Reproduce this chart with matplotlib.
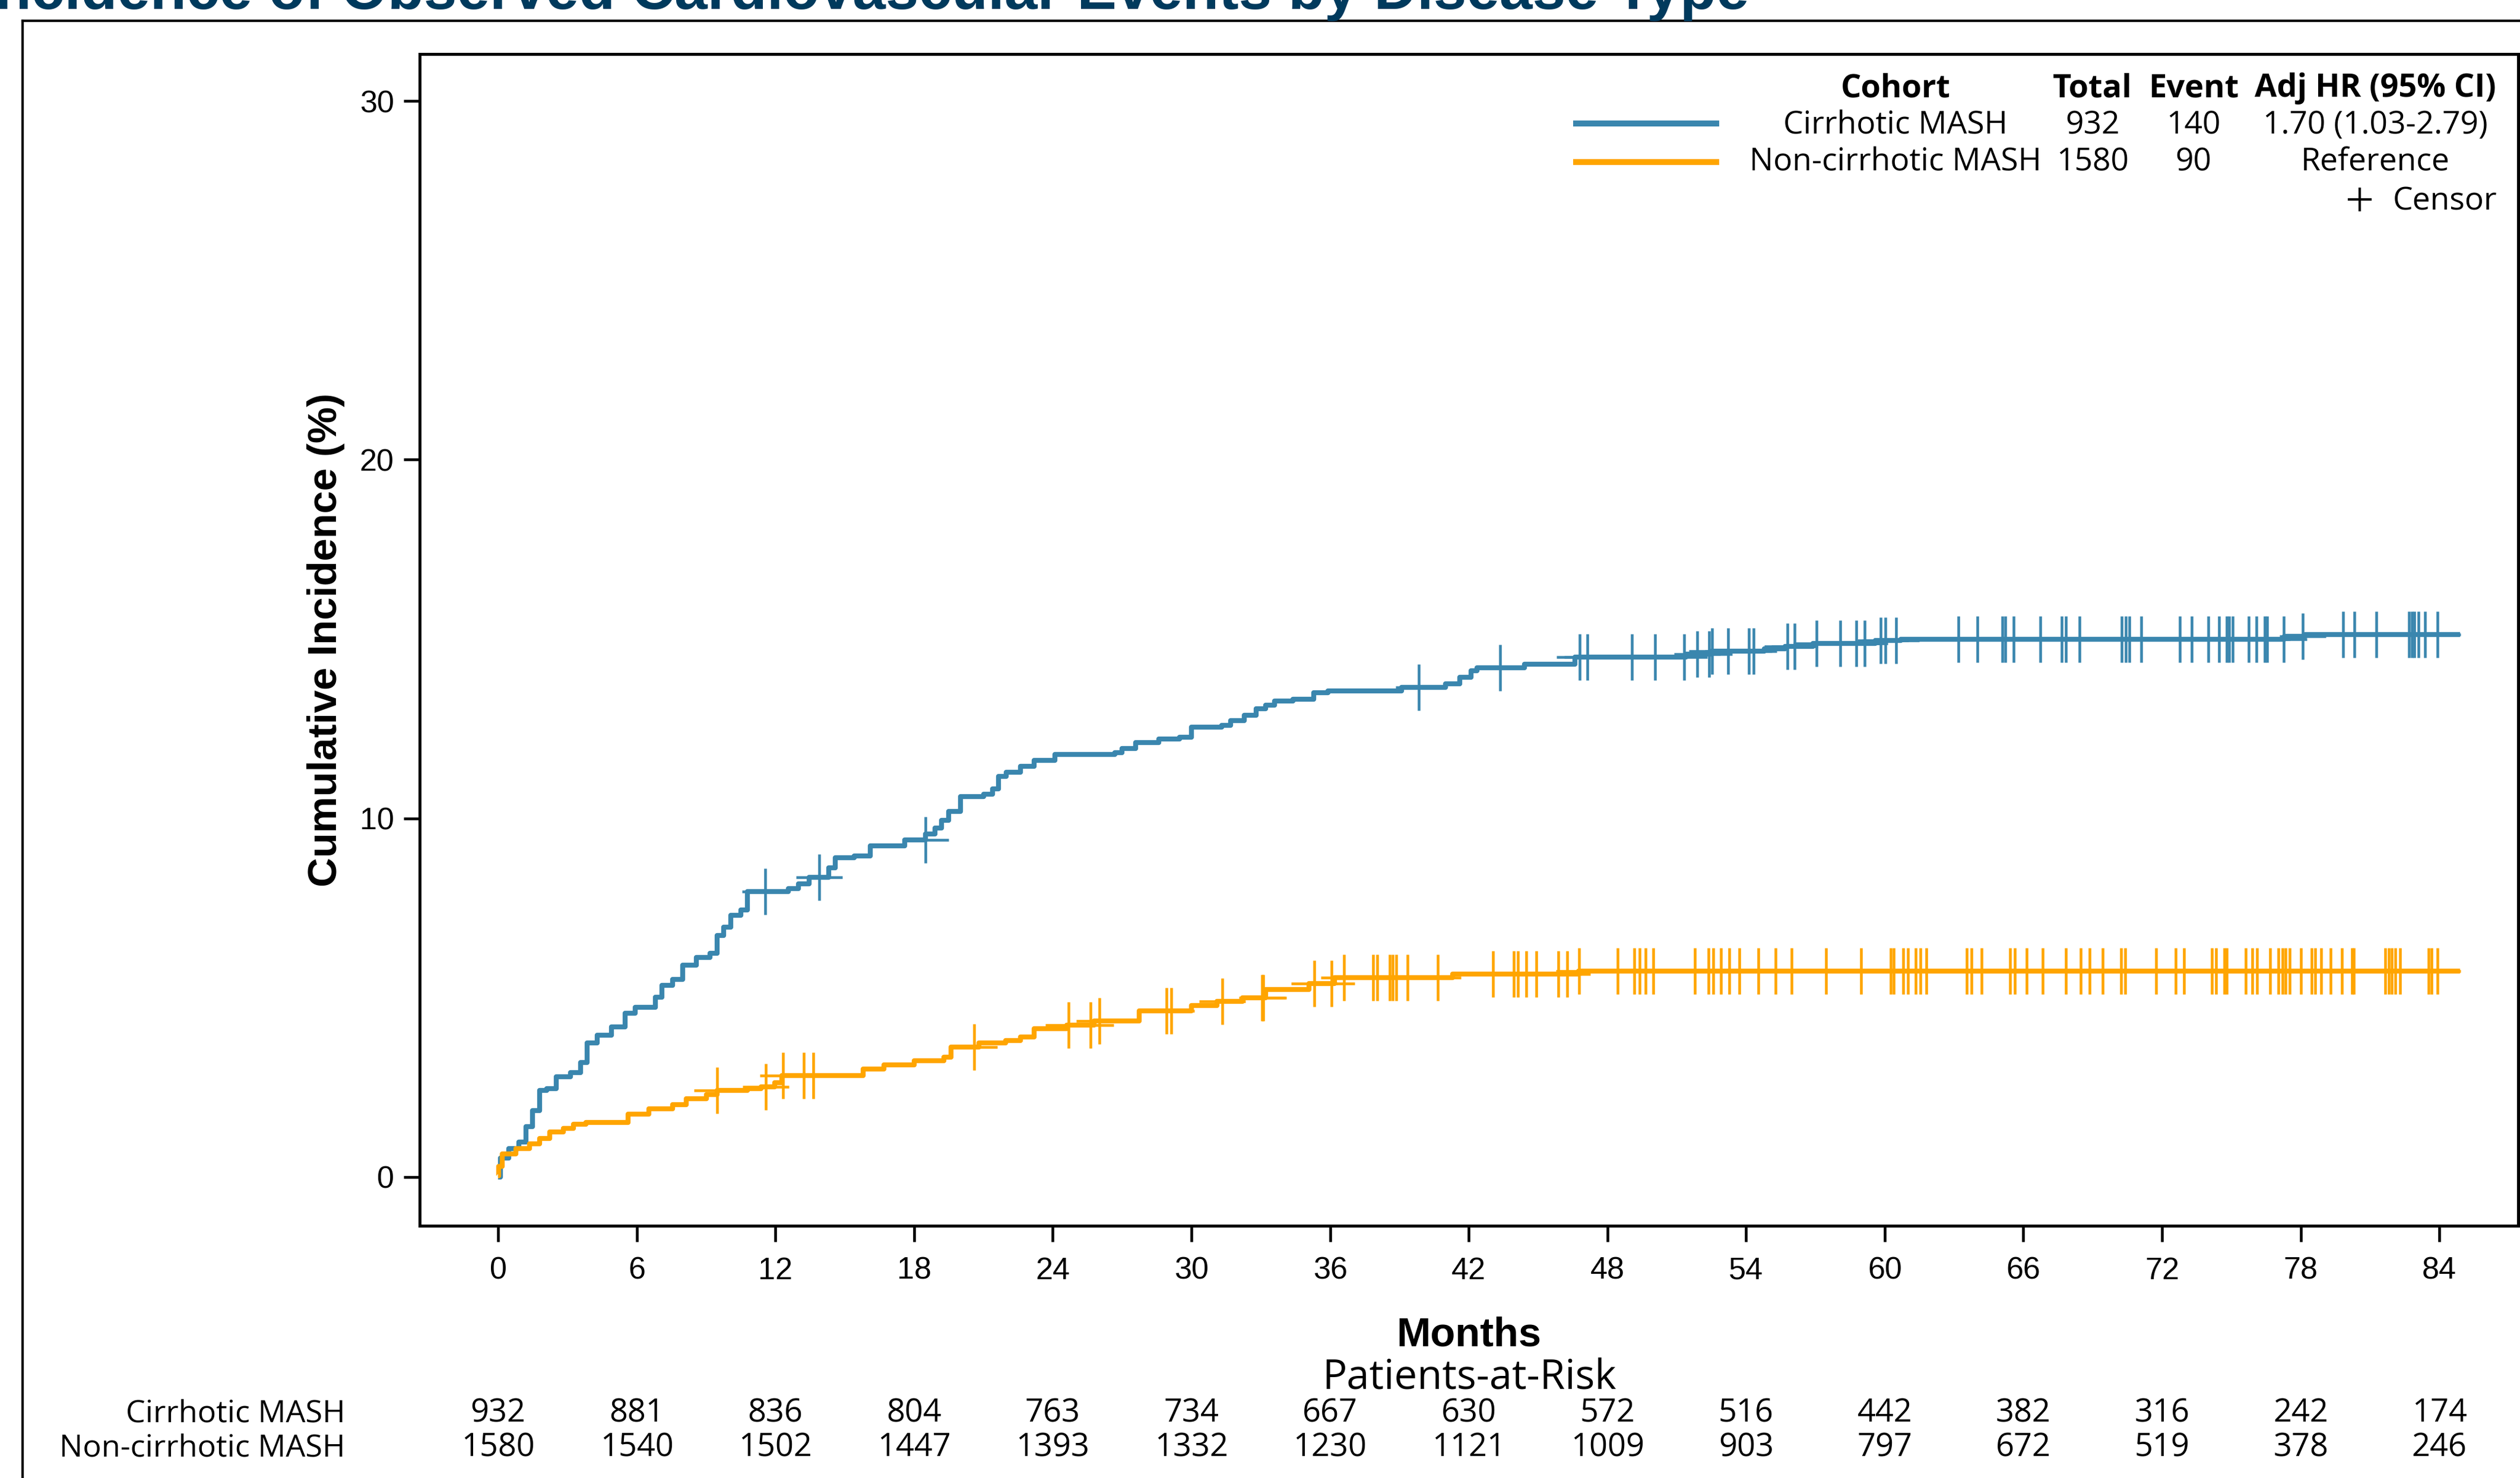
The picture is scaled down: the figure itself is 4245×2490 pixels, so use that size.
import numpy as np
import matplotlib.pyplot as plt
from matplotlib.lines import Line2D
from matplotlib.transforms import blended_transform_factory

plt.rcParams['font.family'] = ['Liberation Sans', 'DejaVu Sans']

# ---------------- data ----------------
title = "Cumulative Incidence of Observed Cardiovascular Events by Disease Type"
cohorts = ["Cirrhotic MASH", "Non-cirrhotic MASH"]
totals = ["932", "1580"]
events = ["140", "90"]
adj_hr = ["1.70 (1.03-2.79)", "Reference"]

# cumulative incidence step curves (month, %)
cirr_t = [0, 0.1, 0.47, 0.91, 1.21, 1.5, 1.8, 2.1, 2.53, 3.13, 3.57, 3.86, 4.3, 4.9,
          5.49, 5.93, 6.81, 7.1, 7.55, 7.99, 8.58, 9.17, 9.47, 9.76, 10.06, 10.5,
          10.8, 12.56, 13.0, 13.45, 14.3, 14.6, 15.4, 16.1, 17.6, 18.5, 18.9, 19.2,
          19.5, 20.0, 21.0, 21.4, 21.65, 22.0, 22.6, 23.2, 24.1, 26.7, 27.0, 27.6,
          28.6, 29.5, 30.0, 31.3, 31.7, 32.3, 32.8, 33.2, 33.6, 34.4, 35.3, 35.9,
          39.1, 41.0, 41.6, 42.1, 42.35, 44.4, 46.6, 51.4, 52.5, 54.8, 55.7, 56.9,
          59.6, 60.7, 77.3, 78.2, 84.9]
cirr_v = [0, 0.53, 0.8, 0.97, 1.41, 1.86, 2.41, 2.46, 2.8, 2.91, 3.19, 3.74, 3.96, 4.19,
          4.57, 4.74, 5.02, 5.35, 5.51, 5.9, 6.13, 6.24, 6.73, 6.96, 7.29, 7.45,
          7.96, 8.05, 8.18, 8.35, 8.62, 8.9, 8.95, 9.23, 9.4, 9.57, 9.73, 9.95,
          10.19, 10.61, 10.67, 10.83, 11.17, 11.28, 11.45, 11.61, 11.78, 11.83, 11.94, 12.11,
          12.22, 12.27, 12.55, 12.6, 12.72, 12.88, 13.05, 13.16, 13.27, 13.32, 13.5, 13.55,
          13.66, 13.75, 13.94, 14.11, 14.2, 14.3, 14.5, 14.58, 14.66, 14.72, 14.79, 14.87,
          14.96, 15.0, 15.08, 15.13, 15.13]

non_t = [0, 0.03, 0.18, 0.77, 1.36, 1.8, 2.24, 2.83, 3.27, 3.8, 5.63, 6.52, 7.55, 8.14,
         9.02, 9.47, 10.8, 11.38, 11.97, 12.27, 15.8, 16.7, 18.0, 19.3, 19.6, 20.8,
         21.95, 22.6, 23.2, 24.6, 25.8, 27.75, 30.0, 31.1, 32.2, 33.2, 35.1, 36.2,
         41.3, 46.75, 84.9]
non_v = [0.03, 0.3, 0.64, 0.8, 0.92, 1.08, 1.25, 1.36, 1.47, 1.52, 1.75, 1.91, 2.02, 2.19,
         2.3, 2.41, 2.46, 2.52, 2.63, 2.83, 3.02, 3.13, 3.24, 3.35, 3.63, 3.74,
         3.8, 3.91, 4.13, 4.24, 4.35, 4.63, 4.79, 4.9, 5.0, 5.23, 5.39, 5.56,
         5.66, 5.74, 5.74]

# censor times (months)
cirr_cens = [11.56, 13.89, 18.49, 39.85, 43.36, 46.81, 47.14, 49.07, 50.07, 51.31, 51.88,
             52.4, 52.52, 53.21, 54.12, 54.33, 55.78, 56.11, 57.05, 58.08, 58.77, 59.14,
             59.83, 60.04, 60.5, 63.19, 64.0, 65.09, 65.21, 65.57, 66.72, 67.66, 67.84,
             68.44, 70.26, 70.44, 70.59, 71.1, 72.76, 73.28, 74.0, 74.46, 74.79, 74.91,
             75.06, 75.76, 76.09, 76.45, 76.54, 77.27, 78.08, 79.84, 80.32, 81.26, 82.68,
             82.8, 82.92, 83.1, 83.38, 83.92]
non_cens = [9.47, 11.59, 12.33, 13.24, 13.63, 20.61, 24.68, 25.63, 26.01, 28.93, 29.14,
            31.35, 33.06, 33.12, 35.33, 36.07, 36.6, 37.87, 38.05, 38.58, 38.72, 38.87,
            39.34, 40.67, 43.05, 43.94, 44.12, 44.5, 44.93, 45.87, 46.26, 46.77, 48.44,
            49.16, 49.4, 49.65, 49.98, 51.79, 52.37, 52.58, 52.91, 53.27, 53.72, 54.54,
            55.27, 55.96, 57.47, 58.98, 60.25, 60.4, 60.8, 61.01, 61.34, 61.55, 61.79,
            63.55, 63.76, 64.18, 65.42, 65.63, 66.15, 66.84, 67.84, 68.48, 68.87, 69.42,
            70.23, 70.41, 71.74, 72.59, 72.95, 74.16, 74.34, 74.7, 74.79, 75.61, 75.91,
            76.12, 76.67, 77.03, 77.21, 77.33, 77.51, 78.02, 78.48, 78.63, 78.87, 79.29,
            79.78, 80.23, 80.29, 81.65, 81.8, 81.95, 82.1, 82.31, 83.52, 83.67, 83.92]

# patients at risk
risk_months = list(range(0, 85, 6))
cirr_risk = [932, 881, 836, 804, 763, 734, 667, 630, 572, 516, 442, 382, 316, 242, 174]
non_risk = [1580, 1540, 1502, 1447, 1393, 1332, 1230, 1121, 1009, 903, 797, 672, 519, 378, 246]

# ---------------- styling ----------------
W, H, DPI = 4245, 2490, 300
BLUE = "#3A86AE"
ORANGE = "#FFA500"
NAVY = "#003A5D"
LEG_FONT = ["Open Sans", "DejaVu Sans"]


def fx(x):
    return x / W


def fy(y):
    return 1 - y / H


def step_at(times, vals, t):
    idx = np.searchsorted(times, t, side="right") - 1
    return np.asarray(vals)[idx]


fig = plt.figure(figsize=(W / DPI, H / DPI), dpi=DPI)
ax = fig.add_axes([fx(707), fy(2065), (4242 - 707) / W, (2065 - 91) / H])

# curves
for t, v, cens, col in [(cirr_t, cirr_v, cirr_cens, BLUE), (non_t, non_v, non_cens, ORANGE)]:
    ax.step(t, v, where="post", color=col, lw=2.0, solid_capstyle="butt")
    ax.plot(cens, step_at(t, v, cens), ls="none", marker="+", ms=18.7, mew=1.1, color=col)

ax.set_xlim(-3.39, 87.41)
ax.set_ylim(-1.357, 31.31)
ax.set_xticks(risk_months)
ax.set_yticks([0, 10, 20, 30])
ax.tick_params(direction="out", length=6.4, width=1.1, labelsize=12.5)
ax.tick_params(axis="x", pad=6)
ax.tick_params(axis="y", pad=4)
for sp in ax.spines.values():
    sp.set_linewidth(1.2)

ax.set_xlabel("Months", fontsize=16.5, fontweight="bold")
ax.xaxis.label.set_va("baseline")
ax.xaxis.set_label_coords(0.5, (2065 - 2267) / (2065 - 91))
ax.set_ylabel("Cumulative Incidence (%)", fontsize=16.5, fontweight="bold")
ax.yaxis.label.set_va("baseline")
ax.yaxis.set_label_coords((567 - 707) / (4242 - 707), 0.5)

# legend table (top right, inside axes)
col_x = [3193, 3525, 3695, 4001]
heads = ["Cohort", "Total", "Event", "Adj HR (95% CI)"]
for x, s in zip(col_x, heads):
    fig.text(fx(x), fy(163), s, ha="center", va="baseline", fontsize=13,
             fontweight="bold", family=LEG_FONT)
for i, (col, y_base, y_line) in enumerate([(BLUE, 225, 208), (ORANGE, 288, 273)]):
    fig.add_artist(Line2D([fx(2650), fx(2896)], [fy(y_line)] * 2, color=col, lw=2.4,
                          solid_capstyle="butt", transform=fig.transFigure))
    for x, s in zip(col_x, [cohorts[i], totals[i], events[i], adj_hr[i]]):
        fig.text(fx(x), fy(y_base), s, ha="center", va="baseline", fontsize=12.8,
                 family=LEG_FONT)
fig.add_artist(Line2D([fx(3975)], [fy(336)], marker="+", ms=9.6, mew=1.0, color="black",
                      transform=fig.transFigure))
fig.text(fx(4206), fy(353), "Censor", ha="right", va="baseline", fontsize=12.8, family=LEG_FONT)

# patients-at-risk table
fig.text(fx((707 + 4242) / 2), fy(2340), "Patients-at-Risk", ha="center", va="baseline",
         fontsize=16.5, family=LEG_FONT)
trans = blended_transform_factory(ax.transData, fig.transFigure)
for name, counts, y_base in [(cohorts[0], cirr_risk, 2395), (cohorts[1], non_risk, 2453)]:
    fig.text(fx(582), fy(y_base), name, ha="right", va="baseline", fontsize=12.5, family=LEG_FONT)
    for m, n in zip(risk_months, counts):
        ax.text(m, fy(y_base), str(n), transform=trans, ha="center", va="baseline",
                fontsize=13, family=LEG_FONT, clip_on=False)

# title (clipped at the top edge, as in the source) and outer frame
fig.text(fx(2946), fy(15), title, ha="right", va="baseline", fontsize=24,
         fontweight="bold", color=NAVY)
fig.add_artist(Line2D([fx(38), fx(38)], [0, fy(35)], color="black", lw=1.0,
                      transform=fig.transFigure))
fig.add_artist(Line2D([fx(38), 1], [fy(35)] * 2, color="black", lw=1.0,
                      transform=fig.transFigure))

fig.savefig("out.png", dpi=DPI)
